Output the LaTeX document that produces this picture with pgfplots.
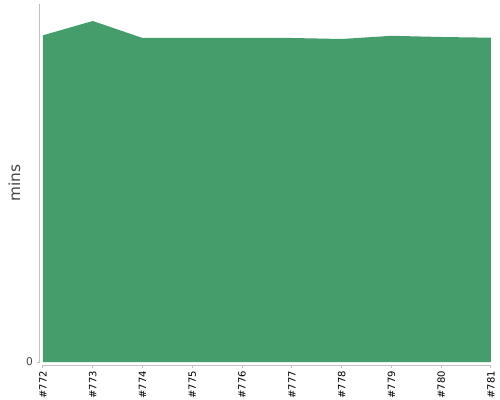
\documentclass[border=0pt]{standalone}
\usepackage{fontspec}
\setmainfont{DejaVu Sans}
\usepackage{pgfplots}
\pgfplotsset{compat=1.18}
\definecolor{areagreen}{RGB}{69,157,108}
\definecolor{axisgray}{RGB}{192,192,192}
\definecolor{labelgray}{RGB}{68,68,68}
\begin{document}
\begin{tikzpicture}
\path (-32.25pt,-28.5pt) rectangle (342.75pt,271.5pt);
\begin{axis}[
  at={(0pt,0pt)}, anchor=south west,
  scale only axis, width=336pt, height=268.5pt,
  xmin=0, xmax=9, ymin=0, ymax=35.8,
  axis x line=bottom, axis y line=left,
  axis x line shift=2.25pt, axis y line shift=2.6pt,
  axis line style={-, draw=axisgray, line width=0.75pt},
  tick style={draw=axisgray, line width=0.75pt},
  tick align=outside, major tick length=2.25pt,
  xtick={0,1,2,3,4,5,6,7,8,9},
  xticklabels={\#772,\#773,\#774,\#775,\#776,\#777,\#778,\#779,\#780,\#781},
  xticklabel style={rotate=90, anchor=east, font=\fontsize{7.5}{9}\selectfont, text=black, inner sep=0pt, xshift=-2pt},
  ytick={0},
  yticklabel style={font=\fontsize{8}{9}\selectfont, text=labelgray, inner sep=0pt, xshift=-2.5pt},
  ylabel={mins},
  ylabel style={at={(axis description cs:-0.064,0.5)}, anchor=center, font=\fontsize{11.5}{13}\selectfont, text=labelgray},
  /pgf/number format/assume math mode=true,
]
\addplot[fill=areagreen, draw=none] coordinates {
  (0,32.67) (1,34.10) (2,32.40) (3,32.40) (4,32.40) (5,32.40) (6,32.30) (7,32.62) (8,32.50) (9,32.43)
} \closedcycle;
\end{axis}
\end{tikzpicture}
\end{document}
